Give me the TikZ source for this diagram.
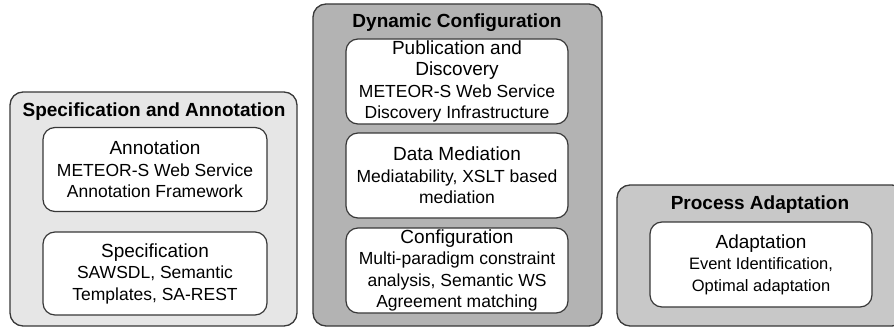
\documentclass[tikz,border=0pt]{standalone}
\usepackage{fontspec}
\setmainfont{Liberation Sans}
\definecolor{edge}{HTML}{383838}
\definecolor{fillA}{HTML}{E6E6E6}
\definecolor{fillB}{HTML}{B3B3B3}
\definecolor{fillC}{HTML}{C8C8C8}
\newcommand{\hd}[1]{{\fontsize{19}{21.5}\selectfont #1}}
\begin{document}
\begin{tikzpicture}[x=1pt,y=-1pt,
  outerbox/.style={draw=edge,line width=1.3pt,rounded corners=13pt,inner sep=0pt,outer sep=0pt},
  innerbox/.style={draw=edge,line width=1.2pt,rounded corners=12pt,fill=white,inner sep=0pt,outer sep=0pt,
     align=center,font=\fontsize{17.5}{21.5}\selectfont},
  title/.style={font=\bfseries\fontsize{19}{21}\selectfont,inner sep=0pt}]
\useasboundingbox (0,0) rectangle (894,329);
% outer boxes
\node[outerbox,fill=fillA,minimum width=287pt,minimum height=234pt] (spec) at (153.5,209) {};
\node[outerbox,fill=fillB,minimum width=289pt,minimum height=322pt] (dyn) at (457.5,165) {};
\node[outerbox,fill=fillC,minimum width=288pt,minimum height=141pt] (proc) at (761,255.5) {};
% titles
\node[title] (tspec) at (154,112) {Specification and Annotation};
\node[title] (tdyn) at (457,23) {Dynamic Configuration};
\node[title] (tproc) at (760,205) {Process Adaptation};
% inner boxes
\node[innerbox,minimum width=224pt,minimum height=84pt] (ann) at (155,169.5)
  {\hd{Annotation}\\METEOR-S Web Service\\Annotation Framework};
\node[innerbox,minimum width=224pt,minimum height=83pt] (spc) at (155,273.5)
  {\hd{Specification}\\SAWSDL, Semantic\\Templates, SA-REST};
\node[innerbox,minimum width=222pt,minimum height=85pt] (pub) at (457,81.5)
  {\hd{Publication and}\\\hd{Discovery}\\METEOR-S Web Service\\Discovery Infrastructure};
\node[innerbox,minimum width=222pt,minimum height=85pt] (dm) at (457,175.5)
  {\hd{Data Mediation}\\Mediatability, XSLT based\\mediation};
\node[innerbox,minimum width=222pt,minimum height=85pt] (conf) at (457,270.5)
  {\hd{Configuration}\\Multi-paradigm constraint\\analysis, Semantic WS\\Agreement matching};
\node[innerbox,minimum width=222pt,minimum height=85pt,font=\fontsize{16.5}{21.5}\selectfont] (adp) at (761,264.5)
  {\hd{Adaptation}\\Event Identification,\\Optimal adaptation};
\end{tikzpicture}
\end{document}
